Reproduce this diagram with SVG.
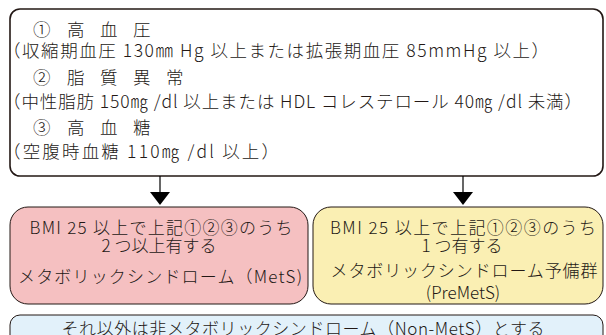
<svg xmlns="http://www.w3.org/2000/svg" width="606" height="335" viewBox="0 0 606 335">
<defs>
<style>
text{font-family:"Noto Sans CJK JP","Noto Sans",sans-serif;fill:#231815;font-weight:300;}
.t{font-size:17.5px;}
.c{font-size:17px;text-anchor:middle;}
.box{stroke:#231815;}
</style>
</defs>
<rect width="606" height="335" fill="#ffffff"/>
<g id="criteria">
<rect class="box" x="10" y="9" width="593" height="167" rx="10" fill="#ffffff" stroke-width="1.6"/>
<text class="t" y="36"><tspan x="33">①</tspan><tspan x="67">高</tspan><tspan x="100">血</tspan><tspan x="133">圧</tspan></text>
<text class="t" x="3" y="57" textLength="546" lengthAdjust="spacing">（収縮期血圧 130㎜ Hg 以上または拡張期血圧 85mmHg 以上）</text>
<text class="t" y="84"><tspan x="33">②</tspan><tspan x="67">脂</tspan><tspan x="100">質</tspan><tspan x="133">異</tspan><tspan x="166">常</tspan></text>
<text class="t" x="3" y="108" textLength="579" lengthAdjust="spacing">（中性脂肪 150㎎ /dl 以上または HDL コレステロール 40㎎ /dl 未満）</text>
<text class="t" y="134"><tspan x="33">③</tspan><tspan x="67">高</tspan><tspan x="100">血</tspan><tspan x="133">糖</tspan></text>
<text class="t" x="3" y="158" textLength="276" lengthAdjust="spacing">（空腹時血糖 110㎎ /dl 以上）</text>
</g>
<g id="connectors" stroke="#000" fill="#000">
<line x1="160" y1="176" x2="160" y2="194" stroke-width="1.2"/>
<polygon points="150,192 170,192 160,205" stroke="none"/>
<line x1="463" y1="176" x2="463" y2="194" stroke-width="1.2"/>
<polygon points="453,192 473,192 463,205" stroke="none"/>
</g>
<g id="mets">
<rect class="box" x="10" y="207" width="298" height="97" rx="18" fill="#f5c0c1" stroke-width="1"/>
<text class="c" x="161" y="234" textLength="263" lengthAdjust="spacing">BMI 25 以上で上記①②③のうち</text>
<text class="c" x="159" y="252">2 つ以上有する</text>
<text class="c" x="160" y="283" textLength="284" lengthAdjust="spacing">メタボリックシンドローム（MetS)</text>
</g>
<g id="premets">
<rect class="box" x="313" y="207" width="290" height="97" rx="18" fill="#faefb3" stroke-width="1"/>
<text class="c" x="463" y="234" textLength="266" lengthAdjust="spacing">BMI 25 以上で上記①②③のうち</text>
<text class="c" x="462" y="252">1 つ有する</text>
<text class="c" x="464" y="277" textLength="267" lengthAdjust="spacing">メタボリックシンドローム予備群</text>
<text class="c" x="463" y="299">(PreMetS)</text>
</g>
<g id="nonmets">
<rect class="box" x="10" y="315" width="593" height="40" rx="10" fill="#e2f1fa" stroke-width="1"/>
<text class="c" x="303" y="335" textLength="483" lengthAdjust="spacing">それ以外は非メタボリックシンドローム（Non-MetS）とする</text>
</g>
</svg>
